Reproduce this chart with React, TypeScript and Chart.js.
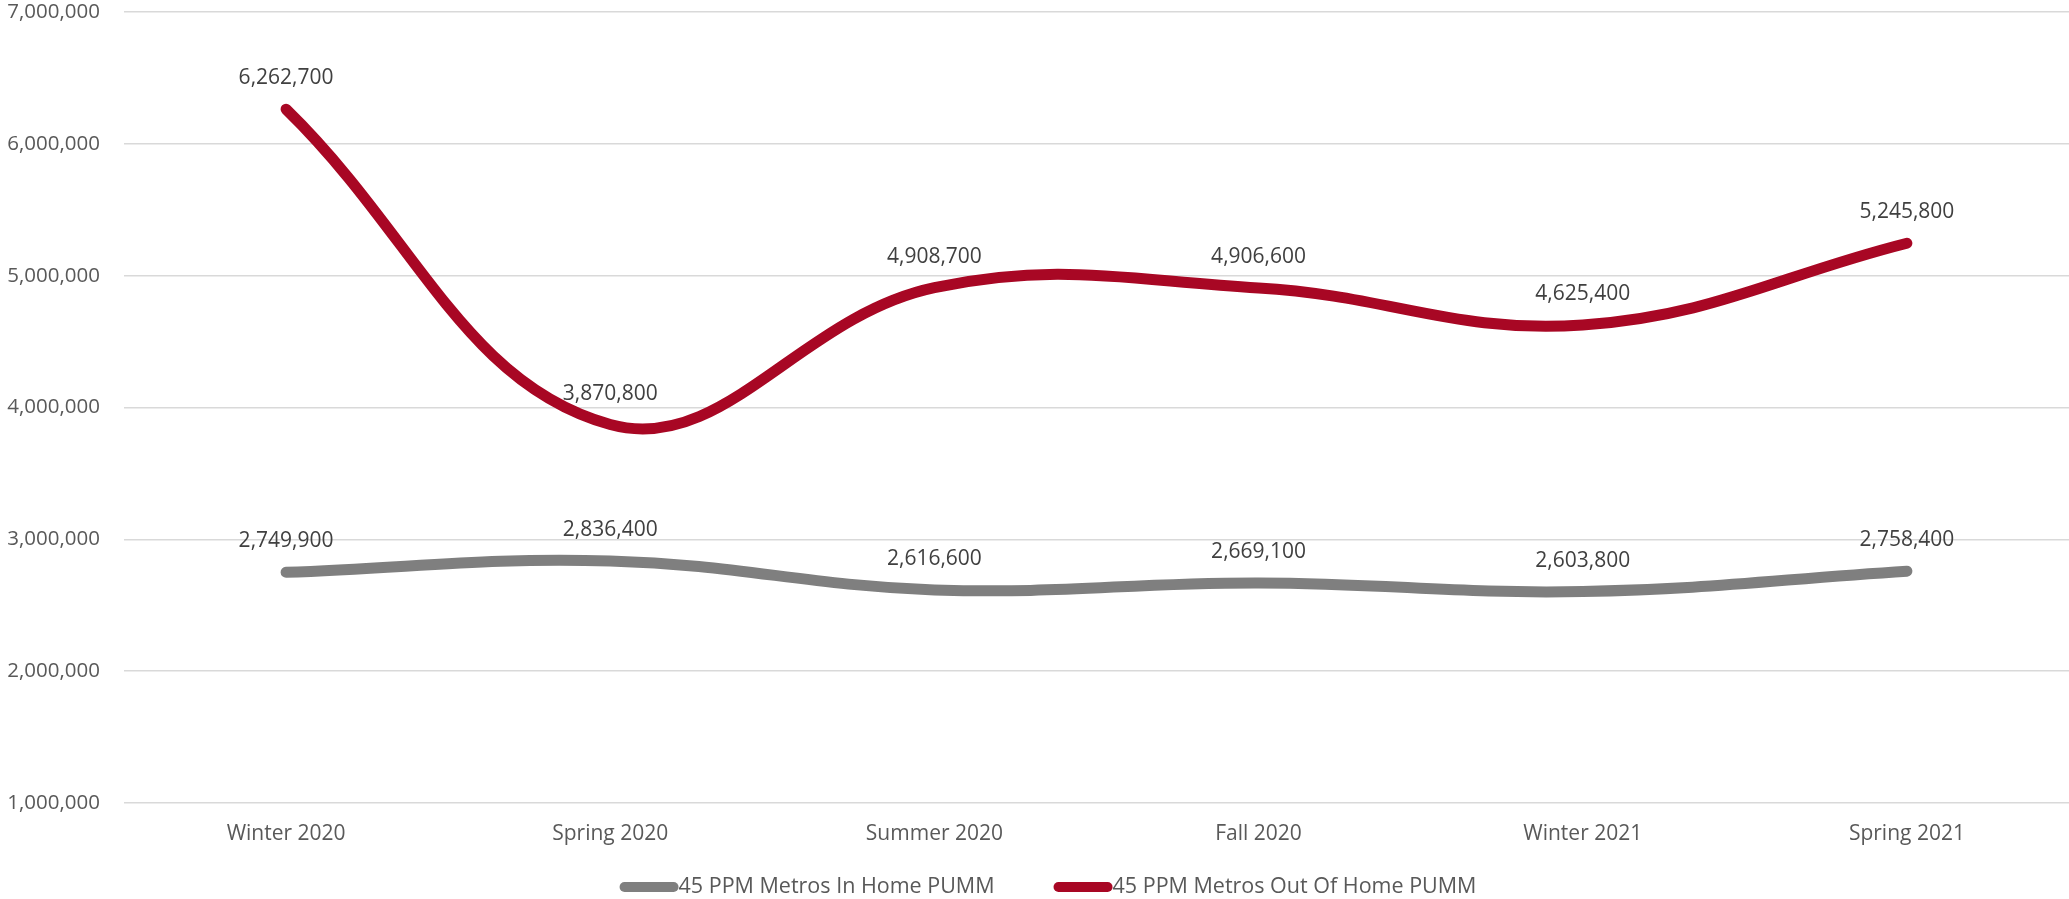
import React, { useEffect, useRef } from 'react';
import { Chart, registerables } from 'chart.js';

Chart.register(...registerables);

const categories = ['Winter 2020', 'Spring 2020', 'Summer 2020', 'Fall 2020', 'Winter 2021', 'Spring 2021'];
const inHomeValues = [2749900, 2836400, 2616600, 2669100, 2603800, 2758400];
const outOfHomeValues = [6262700, 3870800, 4908700, 4906600, 4625400, 5245800];
const seriesNames = ['45 PPM Metros In Home PUMM', '45 PPM Metros Out Of Home PUMM'];
const seriesColors = ['#7F7F7F', '#A80724'];
const yMin = 1000000;
const yMax = 7000000;
const yStep = 1000000;

const FONT = '"Open Sans", "DejaVu Sans", sans-serif';
const fmt = (v: number) => v.toLocaleString('en-US');

const dataLabelPlugin = {
  id: 'dataLabels',
  afterDatasetsDraw(chart: any) {
    const ctx = chart.ctx;
    ctx.save();
    ctx.font = `21px ${FONT}`;
    ctx.fillStyle = '#404040';
    ctx.textAlign = 'center';
    ctx.textBaseline = 'alphabetic';
    chart.data.datasets.forEach((ds: any, i: number) => {
      const meta = chart.getDatasetMeta(i);
      meta.data.forEach((pt: any, j: number) => {
        ctx.fillText(fmt(ds.data[j]), pt.x, pt.y - 25);
      });
    });
    ctx.restore();
  },
};

const legendPlugin = {
  id: 'customLegend',
  afterDraw(chart: any) {
    const ctx = chart.ctx;
    ctx.save();
    ctx.font = `21.5px ${FONT}`;
    const symW = 59;
    const symH = 10;
    const gap = 59;
    const items = chart.data.datasets.map((ds: any) => ({
      label: ds.label,
      color: ds.borderColor,
      w: symW + ctx.measureText(ds.label).width,
    }));
    const total = items.reduce((s: number, it: any) => s + it.w, 0) + gap * (items.length - 1);
    let x = 1048 - total / 2;
    const cy = 887;
    items.forEach((it: any) => {
      ctx.fillStyle = it.color;
      ctx.beginPath();
      ctx.roundRect(x, cy - symH / 2, symW, symH, symH / 2);
      ctx.fill();
      ctx.fillStyle = '#595959';
      ctx.textAlign = 'left';
      ctx.textBaseline = 'middle';
      ctx.fillText(it.label, x + symW, cy);
      x += it.w + gap;
    });
    ctx.restore();
  },
};

export default function App() {
  const canvasRef = useRef<HTMLCanvasElement | null>(null);

  useEffect(() => {
    if (!canvasRef.current) return;
    const chart = new Chart(canvasRef.current, {
      type: 'line',
      data: {
        labels: categories,
        datasets: [
          {
            label: seriesNames[0],
            data: inHomeValues,
            borderColor: seriesColors[0],
            backgroundColor: seriesColors[0],
            borderWidth: 11,
            tension: 0.4,
            pointRadius: 0,
            borderCapStyle: 'round',
            borderJoinStyle: 'round',
            fill: false,
          },
          {
            label: seriesNames[1],
            data: outOfHomeValues,
            borderColor: seriesColors[1],
            backgroundColor: seriesColors[1],
            borderWidth: 11,
            tension: 0.4,
            pointRadius: 0,
            borderCapStyle: 'round',
            borderJoinStyle: 'round',
            fill: false,
          },
        ],
      },
      options: {
        responsive: false,
        animation: false,
        devicePixelRatio: 1,
        layout: { padding: { top: 0, left: 0, right: 0, bottom: 46 } },
        plugins: {
          legend: { display: false },
          tooltip: { enabled: false },
        },
        scales: {
          x: {
            offset: true,
            grid: { display: false, drawTicks: false },
            border: { display: false },
            ticks: {
              color: '#595959',
              font: { family: FONT, size: 21 },
              padding: 18,
              maxRotation: 0,
              autoSkip: false,
            },
            afterFit: (scale: any) => {
              scale.height = 50;
              scale.paddingLeft = 0;
              scale.paddingRight = 0;
            },
          },
          y: {
            min: yMin,
            max: yMax,
            grid: { color: '#D9D9D9', lineWidth: 1.5, drawTicks: false },
            border: { display: false },
            ticks: {
              stepSize: yStep,
              color: '#595959',
              font: { family: FONT, size: 20.5 },
              padding: 24,
              callback: (v: any) => fmt(Number(v)),
            },
            afterFit: (scale: any) => {
              scale.width = 124;
              scale.paddingTop = 12;
              scale.paddingBottom = 0;
            },
          },
        },
      },
      plugins: [dataLabelPlugin, legendPlugin],
    } as any);
    return () => chart.destroy();
  }, []);

  return (
    <div style={{ position: 'absolute', left: 0, top: 0, width: 2069, height: 899, background: '#fff' }}>
      <canvas ref={canvasRef} width={2069} height={899} style={{ display: 'block', width: 2069, height: 899 }} />
    </div>
  );
}
